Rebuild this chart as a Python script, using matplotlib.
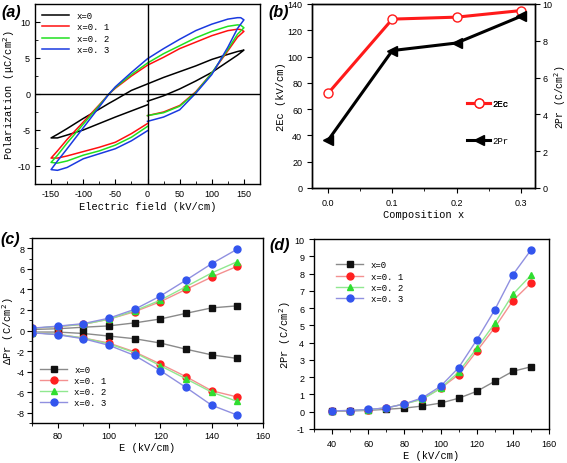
import matplotlib
matplotlib.use("Agg")
import matplotlib.pyplot as plt
from matplotlib.ticker import MultipleLocator

plt.rcParams['font.family'] = ['Liberation Sans', 'DejaVu Sans']
plt.rcParams['font.size'] = 7
plt.rcParams['axes.linewidth'] = 1.0
plt.rcParams['axes.unicode_minus'] = False
plt.rcParams['mathtext.fontset'] = 'dejavusans'
MONO = ['Liberation Mono', 'DejaVu Sans Mono']

# ---- (a) P-E loops ----
loop_E = [0, 25, 50, 75, 100, 125, 140, 150,
          145, 140, 125, 100, 75, 50, 25, 0, -25, -50, -60, -75, -100, -125, -140, -150,
          -140, -125, -100, -75, -50, -25, 0]
loop_P_x0 = [-1.0, -0.25, 0.7, 1.8, 3.0, 4.5, 5.4, 6.1,
             6.0, 5.9, 5.5, 4.8, 3.9, 3.1, 2.3, 1.4, 0.5, -0.8, -1.3, -2.1, -3.4, -4.8, -5.6, -6.1,
             -6.1, -5.7, -5.0, -4.1, -3.2, -2.35, -1.5]
loop_P_x1 = [-3.0, -2.5, -1.6, 0.3, 2.9, 6.0, 7.9, 8.7,
             8.95, 9.0, 8.8, 8.1, 7.2, 6.3, 5.1, 4.0, 2.5, 0.8, 0.0, -1.5, -3.9, -6.3, -7.9, -8.9,
             -8.9, -8.6, -8.0, -7.4, -6.7, -5.5, -4.1]
loop_P_x2 = [-3.0, -2.6, -1.7, 0.2, 2.9, 6.2, 8.3, 9.2,
             9.55, 9.6, 9.4, 8.7, 7.8, 6.7, 5.6, 4.3, 2.7, 0.9, 0.0, -1.6, -4.2, -6.8, -8.5, -9.5,
             -9.6, -9.3, -8.5, -7.9, -7.1, -6.0, -4.5]
loop_P_x3 = [-3.8, -3.2, -2.2, 0.1, 2.7, 6.5, 9.1, 10.3,
             10.6, 10.6, 10.4, 9.7, 8.8, 7.6, 6.3, 4.9, 3.0, 1.0, 0.0, -1.8, -4.7, -7.6, -9.3, -10.5,
             -10.6, -10.2, -9.0, -8.3, -7.6, -6.5, -5.1]

# ---- (b) 2Ec / 2Pr vs composition ----
comp_x = [0.0, 0.1, 0.2, 0.3]
two_Ec = [72, 128.5, 130, 135]
two_Pr = [2.59, 7.47, 7.88, 9.33]

# ---- (c) delta Pr ----
E_c = [70, 80, 90, 100, 110, 120, 130, 140, 150]
dPr_up_x0 = [0.1, 0.17, 0.32, 0.45, 0.74, 1.12, 1.67, 2.2, 2.4]
dPr_up_x1 = [0.2, 0.38, 0.6, 1.1, 1.83, 2.8, 4.0, 5.2, 6.25]
dPr_up_x2 = [0.2, 0.4, 0.6, 1.1, 1.92, 2.95, 4.27, 5.6, 6.7]
dPr_up_x3 = [0.23, 0.42, 0.67, 1.2, 2.06, 3.35, 4.9, 6.5, 7.92]
dPr_lo_x0 = [-0.15, -0.15, -0.29, -0.54, -0.8, -1.22, -1.82, -2.37, -2.72]
dPr_lo_x1 = [-0.2, -0.38, -0.73, -1.22, -2.08, -3.26, -4.49, -5.86, -6.47]
dPr_lo_x2 = [-0.2, -0.38, -0.73, -1.3, -2.15, -3.43, -4.7, -6.0, -6.9]
dPr_lo_x3 = [-0.22, -0.41, -0.8, -1.44, -2.43, -3.9, -5.54, -7.27, -8.23]

# ---- (d) 2Pr vs E ----
E_d = [40, 50, 60, 70, 80, 90, 100, 110, 120, 130, 140, 150]
Pr_x0 = [0.02, 0.04, 0.08, 0.14, 0.21, 0.33, 0.5, 0.78, 1.18, 1.76, 2.34, 2.6]
Pr_x1 = [0.05, 0.07, 0.12, 0.22, 0.45, 0.75, 1.35, 2.15, 3.5, 4.87, 6.43, 7.45]
Pr_x2 = [0.05, 0.07, 0.12, 0.22, 0.45, 0.72, 1.35, 2.3, 3.67, 5.12, 6.8, 7.9]
Pr_x3 = [0.05, 0.07, 0.13, 0.22, 0.45, 0.81, 1.47, 2.55, 4.15, 5.9, 7.93, 9.36]

labels = ['x=0', 'x=0. 1', 'x=0. 2', 'x=0. 3']
loop_cols = ['#000000', '#ff1010', '#20e020', '#1a3ae0']
mk_cols = ['#111111', '#ff2020', '#30dd30', '#3355ee']
ln_cols = ['#8a8a8a', '#f49090', '#90e890', '#9090e0']
markers = ['s', 'o', '^', 'o']

fig = plt.figure(figsize=(5.67, 4.64), dpi=100)
W, H = 567, 464
TL = 6.5   # tick label size
AL = 7.5   # axis label size


def add_ax(l, t, r, b):
    return fig.add_axes([l / W, 1 - b / H, (r - l) / W, (b - t) / H])


# (a)
ax = add_ax(35, 5, 260, 185)
for P, c, lab in zip([loop_P_x0, loop_P_x1, loop_P_x2, loop_P_x3], loop_cols, labels):
    ax.plot(loop_E, P, color=c, lw=1.1, label=lab)
ax.axhline(0, color='k', lw=1.0)
ax.axvline(0, color='k', lw=1.0)
ax.set_xlim(-175, 175)
ax.set_ylim(-12.5, 12.5)
ax.xaxis.set_major_locator(MultipleLocator(50))
ax.xaxis.set_minor_locator(MultipleLocator(25))
ax.yaxis.set_major_locator(MultipleLocator(5))
ax.yaxis.set_minor_locator(MultipleLocator(2.5))
ax.tick_params(which='both', direction='in', labelsize=TL)
ax.set_xlabel('Electric field (kV/cm)', family=MONO, fontsize=AL, labelpad=2)
ax.set_ylabel('Polarization (μC/cm$^2$)', family=MONO, fontsize=AL, labelpad=0)
ax.legend(loc='upper left', frameon=False, prop={'family': MONO, 'size': 6.5},
          handlelength=3.0, labelspacing=0.25, borderaxespad=0.4)

# (b)
ax = add_ax(312, 5, 535, 189)
ax2 = ax.twinx()
l1, = ax.plot(comp_x, two_Ec, color='#ff1a1a', lw=2.2, marker='o', ms=6.5,
              mfc='white', mec='#ff1a1a', mew=1.0, label='2Ec')
l2, = ax2.plot(comp_x, two_Pr, color='k', lw=2.2, marker='<', ms=7, mfc='k', mec='k',
               label='2Pr')
ax.set_xlim(-0.025, 0.322)
ax.set_ylim(0, 140)
ax2.set_ylim(0, 10)
ax.xaxis.set_major_locator(MultipleLocator(0.1))
ax.xaxis.set_minor_locator(MultipleLocator(0.05))
ax.yaxis.set_major_locator(MultipleLocator(20))
ax2.yaxis.set_major_locator(MultipleLocator(2))
ax.tick_params(which='both', direction='out', labelsize=TL)
ax2.tick_params(which='both', direction='out', labelsize=TL, pad=2)
ax.set_xlabel('Composition x', family=MONO, fontsize=AL, labelpad=2)
ax.set_ylabel('2Ec (kV/cm)', family=MONO, fontsize=AL, labelpad=1)
ax2.set_ylabel('2Pr (C/cm$^2$)', family=MONO, fontsize=7)
ax2.yaxis.set_label_coords(1.075, 0.5)
leg1 = ax.legend(handles=[l1], loc='center left', bbox_to_anchor=(0.66, 0.457), frameon=False,
                 prop={'family': MONO, 'size': 6.5}, handlelength=2.5, handletextpad=0.3)
ax.add_artist(leg1)
ax2.legend(handles=[l2], loc='center left', bbox_to_anchor=(0.66, 0.257), frameon=False,
           prop={'family': MONO, 'size': 6.5}, handlelength=2.5, handletextpad=0.3)

# (c)
ax = add_ax(32, 239, 263, 424)
ups = [dPr_up_x0, dPr_up_x1, dPr_up_x2, dPr_up_x3]
los = [dPr_lo_x0, dPr_lo_x1, dPr_lo_x2, dPr_lo_x3]
for up, lo, lc, mc, m, lab in zip(ups, los, ln_cols, mk_cols, markers, labels):
    ax.plot(E_c, up, color=lc, lw=1.0, marker=m, ms=5, mfc=mc, mec=mc, label=lab)
    ax.plot(E_c, lo, color=lc, lw=1.0, marker=m, ms=5, mfc=mc, mec=mc)
ax.set_xlim(70, 160)
ax.set_ylim(-9, 9)
ax.xaxis.set_major_locator(MultipleLocator(20))
ax.xaxis.set_minor_locator(MultipleLocator(10))
ax.yaxis.set_major_locator(MultipleLocator(2))
ax.yaxis.set_minor_locator(MultipleLocator(1))
ax.tick_params(which='both', direction='out', labelsize=TL, pad=2)
ax.set_xlabel('E (kV/cm)', family=MONO, fontsize=AL, labelpad=2)
ax.set_ylabel('ΔPr (C/cm$^2$)', family=MONO, fontsize=AL, labelpad=0)
ax.legend(loc='lower left', bbox_to_anchor=(0.0, 0.04), frameon=False,
          prop={'family': MONO, 'size': 6.5}, handlelength=3.0, labelspacing=0.25)

# (d)
ax = add_ax(314, 240, 549, 430)
for P, lc, mc, m, lab in zip([Pr_x0, Pr_x1, Pr_x2, Pr_x3], ln_cols, mk_cols, markers, labels):
    ax.plot(E_d, P, color=lc, lw=1.0, marker=m, ms=5, mfc=mc, mec=mc, label=lab)
ax.set_xlim(30, 160)
ax.set_ylim(-1, 10)
ax.xaxis.set_major_locator(MultipleLocator(20))
ax.xaxis.set_minor_locator(MultipleLocator(10))
ax.yaxis.set_major_locator(MultipleLocator(1))
ax.tick_params(which='both', direction='out', labelsize=TL)
ax.set_xlabel('E (kV/cm)', family=MONO, fontsize=AL, labelpad=2)
ax.set_ylabel('2Pr (C/cm$^2$)', family=MONO, fontsize=AL, labelpad=1)
ax.legend(loc='upper left', bbox_to_anchor=(0.06, 0.93), frameon=False,
          prop={'family': MONO, 'size': 6.5}, handlelength=3.0, labelspacing=0.25)

# panel letters
for txt, x, y in [('(a)', 1, 5), ('(b)', 268, 5), ('(c)', 0, 232), ('(d)', 269, 238)]:
    fig.text(x / W, 1 - y / H, txt, fontsize=11.5, fontweight='bold', fontstyle='italic',
             ha='left', va='top')

fig.savefig('out.png', dpi=100)
